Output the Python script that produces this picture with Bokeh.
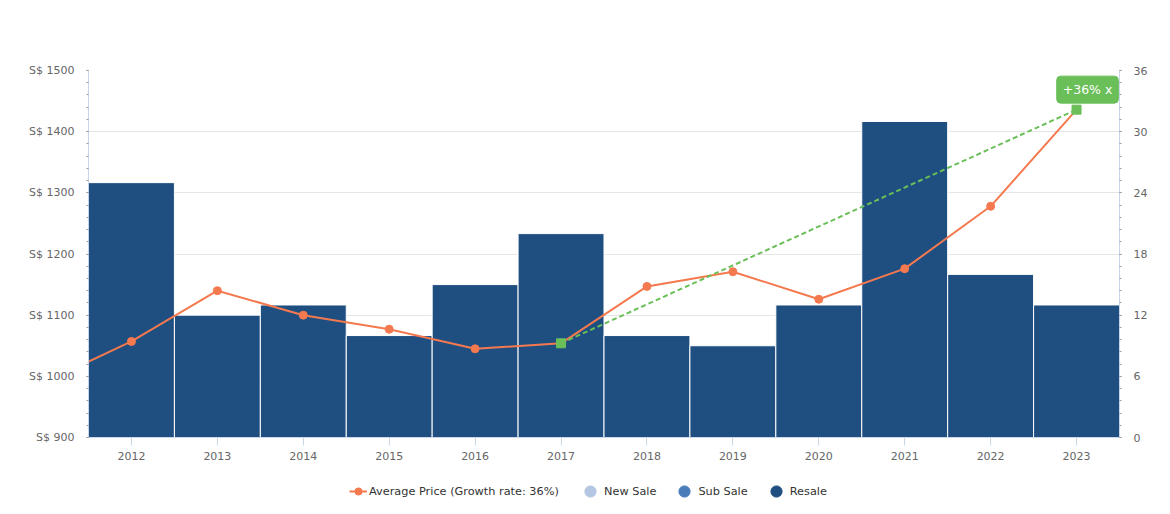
from bokeh.plotting import figure
from bokeh.layouts import column
from bokeh.models import (Range1d, LinearAxis, FixedTicker, PrintfTickFormatter,
                          Legend, LegendItem, Label)
from bokeh.embed import file_html
from bokeh.resources import INLINE

# ---------------- data ----------------
years = [2012, 2013, 2014, 2015, 2016, 2017, 2018, 2019, 2020, 2021, 2022, 2023]
resale_count = [25, 12, 13, 10, 15, 20, 10, 9, 13, 31, 16, 13]
price_years = [2011, 2012, 2013, 2014, 2015, 2016, 2017, 2018, 2019, 2020, 2021, 2022, 2023]
avg_price = [991, 1057, 1140, 1100, 1077, 1045, 1054, 1147, 1171, 1126, 1176, 1278, 1436]
growth_years = [2017, 2023]
growth_price = [1054, 1436]
growth_label = "+36% x"
series_names = ["Average Price (Growth rate: 36%)", "New Sale", "Sub Sale", "Resale"]
left_ticks = [900, 1000, 1100, 1200, 1300, 1400, 1500]
right_ticks = [0, 6, 12, 18, 24, 30, 36]

FONT = "DejaVu Sans"
BAR = "#1f4e80"
LINE = "#f5794f"
GREEN = "#6abf59"
NEW = "#b3c7e3"
SUB = "#4a7dbb"

W = 1162
p = figure(width=W, height=470, output_backend="svg", toolbar_location=None,
           x_range=Range1d(2011.5, 2023.5), y_range=Range1d(900, 1500),
           min_border_left=88, min_border_right=43, min_border_top=70,
           min_border_bottom=33, y_axis_location=None)
p.outline_line_color = None
p.background_fill_color = "white"
p.border_fill_color = "white"
p.extra_y_ranges = {"count": Range1d(0, 36)}

# grid
p.xgrid.grid_line_color = None
p.ygrid.grid_line_color = "#e6e6e6"
p.ygrid.ticker = FixedTicker(ticks=left_ticks)

# x axis
xa = p.xaxis[0]
xa.ticker = FixedTicker(ticks=years)
xa.axis_line_color = "#ccd6eb"
xa.major_tick_line_color = "#ccd6eb"
xa.major_tick_out = 8
xa.major_tick_in = 0
xa.minor_tick_line_color = None
xa.major_label_standoff = 6
xa.major_label_text_font = FONT
xa.major_label_text_font_size = "11px"
xa.major_label_text_color = "#666666"

def style_y(ax, standoff):
    ax.axis_line_color = "#ccd6eb"
    ax.major_tick_line_color = "#999999"
    ax.minor_tick_line_color = "#999999"
    ax.major_tick_out = 2
    ax.major_tick_in = 0
    ax.minor_tick_out = 2
    ax.minor_tick_in = 0
    ax.major_label_standoff = standoff
    ax.major_label_text_font = FONT
    ax.major_label_text_font_size = "11px"
    ax.major_label_text_color = "#666666"

la = LinearAxis(ticker=FixedTicker(ticks=left_ticks,
                                   minor_ticks=list(range(900, 1501, 20))),
                formatter=PrintfTickFormatter(format="S$ %d"))
style_y(la, 12)
p.add_layout(la, "left")

ra = LinearAxis(y_range_name="count",
                ticker=FixedTicker(ticks=right_ticks,
                                   minor_ticks=[round(i * 1.2, 1) for i in range(31)]))
style_y(ra, 12)
p.add_layout(ra, "right")

# bars
p.vbar(x=years, top=resale_count, bottom=0, width=1.0, y_range_name="count",
       fill_color=BAR, line_color="white", line_width=1)

# average price line
p.line(price_years, avg_price, line_color=LINE, line_width=2)
p.scatter(price_years, avg_price, size=8, marker="circle",
          fill_color=LINE, line_color=LINE)

# growth line
p.line(growth_years, growth_price, line_color=GREEN, line_width=2, line_dash="5 3")
p.scatter(growth_years, growth_price, marker="square", size=9,
          fill_color=GREEN, line_color=GREEN)

lbl = Label(x=growth_years[1], y=growth_price[1], text=growth_label,
            x_offset=11, y_offset=20, text_align="center", text_baseline="middle",
            text_font=FONT, text_font_size="12.5px", text_color="white",
            background_fill_color=GREEN, border_line_color=GREEN,
            padding=6, border_radius=4)
p.add_layout(lbl)

# ---------------- legend strip ----------------
q = figure(width=W, height=36, output_backend="svg", toolbar_location=None,
           x_range=Range1d(0, 1), y_range=Range1d(0, 1),
           min_border=0, x_axis_location=None, y_axis_location=None)
q.outline_line_color = None
q.xgrid.visible = False
q.ygrid.visible = False
q.border_fill_color = "white"

nan = float("nan")
ql = q.line([nan, nan], [nan, nan], line_color=LINE, line_width=2)
qs = q.scatter([nan], [nan], marker="circle", fill_color=LINE, line_color=LINE)
dummies = [q.scatter([nan], [nan], marker="circle", fill_color=c, line_color=c)
           for c in (NEW, SUB, BAR)]

common = dict(orientation="horizontal", padding=0, margin=0,
              border_line_color=None, background_fill_alpha=0,
              label_text_font=FONT, label_text_font_size="11.3px",
              label_text_color="#333333")

legA = Legend(items=[LegendItem(label=series_names[0], renderers=[ql, qs])],
              location=(261, 5), glyph_width=18, glyph_height=20,
              label_standoff=2, **common)
legB = Legend(items=[LegendItem(label=n, renderers=[r])
                     for n, r in zip(series_names[1:], dummies)],
              location=(488, 1), glyph_width=28, glyph_height=28,
              label_standoff=0, spacing=14, **common)
q.add_layout(legA)
q.add_layout(legB)

open("out.html", "w").write(file_html(column(p, q, spacing=0), INLINE))
